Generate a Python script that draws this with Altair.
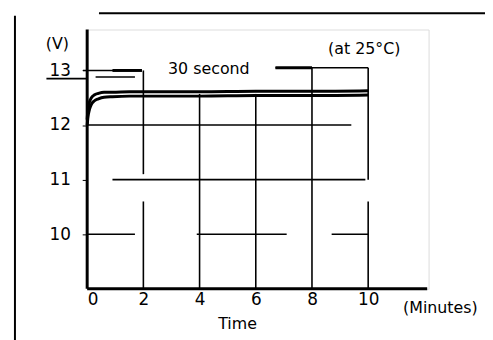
import altair as alt
import pandas as pd

# --- data ---
time_min = [0, 0.03, 0.08, 0.15, 0.25, 0.4, 0.6, 0.9, 1.5, 2, 4, 6, 8, 10]
volt_upper = [12.1, 12.3, 12.42, 12.5, 12.55, 12.58, 12.6, 12.6, 12.61, 12.61, 12.61, 12.62, 12.62, 12.63]
volt_lower = [12.0, 12.15, 12.28, 12.38, 12.44, 12.48, 12.51, 12.52, 12.53, 12.53, 12.53, 12.54, 12.54, 12.55]

x_ticks = [0, 2, 4, 6, 8, 10]
y_ticks = [10, 11, 12, 13]

# grid / frame segments in data units: x, x2, y, y2
seg_x  = [0, 0.9, 0, 3.9, 8.7, 2, 2, 4, 6, 8, 10, 10, 6.7, -0.15, 0.3, -1.45]
seg_x2 = [9.4, 9.9, 1.7, 7.1, 10, 2, 2, 4, 6, 8, 10, 10, 10, 1.95, 1.7, 0]
seg_y  = [12, 11, 10, 10, 10, 9, 11.1, 9, 9, 9, 11, 9, 13.05, 13, 12.88, 12.85]
seg_y2 = [12, 11, 10, 10, 10, 10.6, 13, 12.57, 12.57, 13.05, 13.05, 10.6, 13.05, 13, 12.88, 12.85]

thick_x  = [0, 0, 6.7, 0.9]
thick_x2 = [0, 12.1, 8, 1.95]
thick_y  = [9, 9, 13.05, 13]
thick_y2 = [13.75, 9, 13.05, 13]

frame_x  = [0.42, -2.57]
frame_x2 = [14.3, -2.57]
frame_y  = [14.05, 14.0]
frame_y2 = [14.05, 7.9]

labels = ["(V)", "30 second", "(at 25°C)", "Time", "(Minutes)"]
label_x = [-1.06, 4.33, 9.86, 5.35, 12.57]
label_y = [13.49, 13.03, 13.4, 8.35, 8.64]

FONT = "DejaVu Sans"
xs = alt.Scale(domain=[0, 12.15], nice=False, zero=False)
ys = alt.Scale(domain=[9, 13.75], nice=False, zero=False)

curve = pd.DataFrame({
    "t": time_min * 2,
    "v": volt_upper + volt_lower,
    "s": ["upper"] * len(time_min) + ["lower"] * len(time_min),
})
segs = pd.DataFrame({"x": seg_x, "x2": seg_x2, "y": seg_y, "y2": seg_y2})
thick = pd.DataFrame({"x": thick_x, "x2": thick_x2, "y": thick_y, "y2": thick_y2})
frame = pd.DataFrame({"x": frame_x, "x2": frame_x2, "y": frame_y, "y2": frame_y2})
txt = pd.DataFrame({"label": labels, "x": label_x, "y": label_y})

base_axes = alt.Chart(pd.DataFrame({"x": [0], "y": [9]})).mark_point(opacity=0).encode(
    x=alt.X("x:Q", scale=xs, title=None,
            axis=alt.Axis(values=x_ticks, domain=False, ticks=False, grid=False,
                          labelFontSize=17, labelFont=FONT, labelColor="black",
                          labelPadding=3, format="d")),
    y=alt.Y("y:Q", scale=ys, title=None,
            axis=alt.Axis(values=y_ticks, domain=False, ticks=True, tickSize=5,
                          tickColor="black", grid=False,
                          labelFontSize=17, labelFont=FONT, labelColor="black",
                          labelPadding=12, format="d")),
)

grid = alt.Chart(segs).mark_rule(color="black", strokeWidth=1.6, clip=False).encode(
    x=alt.X("x:Q", scale=xs), x2="x2:Q", y=alt.Y("y:Q", scale=ys), y2="y2:Q")
thick_l = alt.Chart(thick).mark_rule(color="black", strokeWidth=3, clip=False).encode(
    x=alt.X("x:Q", scale=xs), x2="x2:Q", y=alt.Y("y:Q", scale=ys), y2="y2:Q")
frame_l = alt.Chart(frame).mark_rule(color="black", strokeWidth=2, clip=False).encode(
    x=alt.X("x:Q", scale=xs), x2="x2:Q", y=alt.Y("y:Q", scale=ys), y2="y2:Q")

lines = alt.Chart(curve).mark_line(color="black", strokeWidth=3, interpolate="monotone").encode(
    x=alt.X("t:Q", scale=xs), y=alt.Y("v:Q", scale=ys), detail="s:N")

text = alt.Chart(txt).mark_text(font=FONT, fontSize=16, color="black", clip=False).encode(
    x=alt.X("x:Q", scale=xs), y=alt.Y("y:Q", scale=ys), text="label:N")

chart = alt.layer(base_axes, grid, thick_l, frame_l, lines, text).properties(
    width=345, height=262,
    autosize=alt.AutoSizeParams(type="none"),
    padding={"left": 80, "top": 20, "right": 57, "bottom": 50},
).configure_view(stroke=None).configure(background="white")

chart.save("out.html", embed_options={"renderer": "svg", "actions": False})
